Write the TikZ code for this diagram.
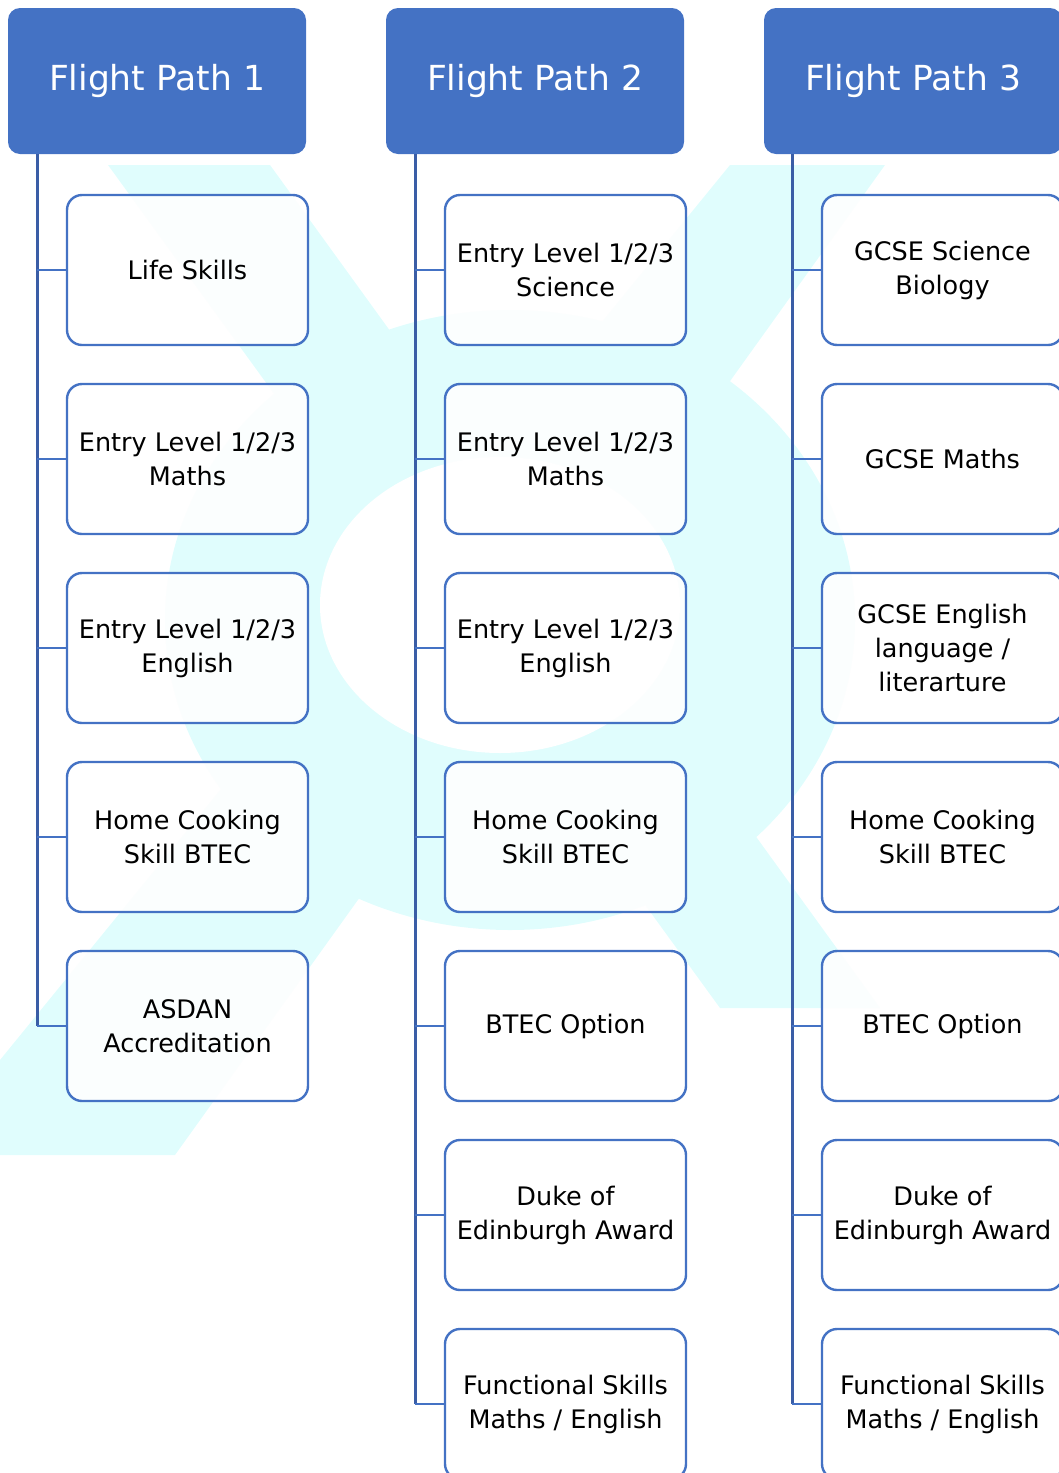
\documentclass[tikz,border=0pt]{standalone}
\usepackage{fontspec}
\setmainfont{DejaVu Sans}
\definecolor{hdr}{HTML}{4472C4}
\definecolor{trunk}{HTML}{3A5DA6}
\definecolor{wm}{HTML}{E0FDFD}
\begin{document}
\begin{tikzpicture}[x=1pt,y=-1pt,
  header/.style={fill=hdr, rounded corners=12pt, minimum width=298pt, minimum height=146pt,
    text=white, font=\fontsize{34.5}{40}\selectfont, inner sep=0pt},
  item/.style={draw=hdr, line width=2.4pt, fill=white, fill opacity=0.9, text opacity=1,
    rounded corners=15pt, minimum width=241pt, minimum height=150pt, align=center,
    font=\fontsize{25.5}{34}\selectfont, inner sep=0pt},
  trunkline/.style={draw=trunk, line width=3pt},
  branch/.style={draw=hdr, line width=2.2pt}]
\useasboundingbox (0,0) rectangle (1059,1473);
% watermark
\begin{scope}
  \clip (0,165) rectangle (1059,1155);
  \fill[wm] (108,165) -- (270,165) -- (880,1008) -- (720,1008) -- cycle;
  \fill[wm] (730,165) -- (885,165) -- (175,1155) -- (0,1155) -- (0,1060) -- cycle;
  \fill[wm] (510,620) ellipse [x radius=345, y radius=310];
  \fill[white] (500,605) ellipse [x radius=180, y radius=148];
\end{scope}
% headers
\node[header] (h1) at (157,81) {Flight Path 1};
\node[header] (h2) at (535,81) {Flight Path 2};
\node[header] (h3) at (913,81) {Flight Path 3};
\coordinate (t1) at (37,154);
\coordinate (t2) at (415,154);
\coordinate (t3) at (792,154);
% column 1
\node[item] (c1-1) at (187.5,270) {Life Skills};
\node[item] (c1-2) at (187.5,459) {Entry Level 1/2/3\\Maths};
\node[item] (c1-3) at (187.5,648) {Entry Level 1/2/3\\English};
\node[item] (c1-4) at (187.5,837) {Home Cooking\\Skill BTEC};
\node[item] (c1-5) at (187.5,1026) {ASDAN\\Accreditation};
% column 2
\node[item] (c2-1) at (565.5,270) {Entry Level 1/2/3\\Science};
\node[item] (c2-2) at (565.5,459) {Entry Level 1/2/3\\Maths};
\node[item] (c2-3) at (565.5,648) {Entry Level 1/2/3\\English};
\node[item] (c2-4) at (565.5,837) {Home Cooking\\Skill BTEC};
\node[item] (c2-5) at (565.5,1026) {BTEC Option};
\node[item] (c2-6) at (565.5,1215) {Duke of\\Edinburgh Award};
\node[item] (c2-7) at (565.5,1404) {Functional Skills\\Maths / English};
% column 3
\node[item] (c3-1) at (942.5,270) {GCSE Science\\Biology};
\node[item] (c3-2) at (942.5,459) {GCSE Maths};
\node[item] (c3-3) at (942.5,648) {GCSE English\\language /\\literarture};
\node[item] (c3-4) at (942.5,837) {Home Cooking\\Skill BTEC};
\node[item] (c3-5) at (942.5,1026) {BTEC Option};
\node[item] (c3-6) at (942.5,1215) {Duke of\\Edinburgh Award};
\node[item] (c3-7) at (942.5,1404) {Functional Skills\\Maths / English};
% trunks
\draw[trunkline] (t1) -- (t1 |- c1-5.west);
\draw[trunkline] (t2) -- (t2 |- c2-7.west);
\draw[trunkline] (t3) -- (t3 |- c3-7.west);
% branches
\foreach \k in {1,...,5} \draw[branch] (t1 |- c1-\k.west) -- (c1-\k.west);
\foreach \k in {1,...,7} \draw[branch] (t2 |- c2-\k.west) -- (c2-\k.west);
\foreach \k in {1,...,7} \draw[branch] (t3 |- c3-\k.west) -- (c3-\k.west);
\end{tikzpicture}
\end{document}
